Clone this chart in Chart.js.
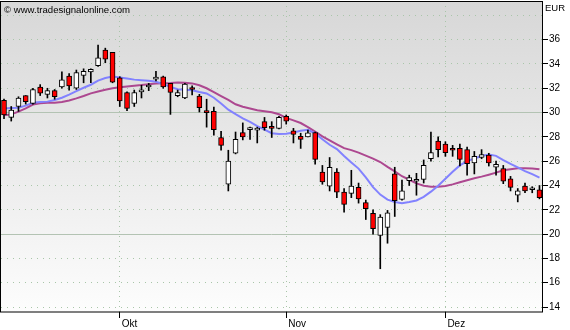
<!DOCTYPE html>
<html>
<head>
<meta charset="utf-8">
<script src="https://cdn.jsdelivr.net/npm/chart.js@4.4.1/dist/chart.umd.min.js"></script>
<style>
  html, body { margin: 0; padding: 0; background: #fff; }
  canvas { display: block; }
</style>
</head>
<body>
<canvas id="kurs" width="570" height="330"></canvas>
<script>
// daily candles, Sep - Dez
var opens  = [31.0,29.6,30.5,31.4,30.75,32.1,31.5,31.8,32.1,33.0,32.0,33.05,33.35,33.85,35.15,34.95,32.85,31.65,30.75,31.7,32.1,32.75,32.95,32.4,31.4,31.2,31.95,31.35,30.05,30.1,27.95,24.1,26.65,28.35,28.6,28.55,29.25,28.75,28.7,29.7,28.5,28.05,28.0,28.35,25.1,23.95,25.1,23.45,23.35,23.85,22.6,21.7,19.9,20.55,24.95,22.85,24.4,24.35,24.5,26.2,27.65,27.4,26.95,27.05,26.95,25.85,26.3,26.5,25.5,25.4,24.55,23.2,23.95,23.65,23.65];
var highs  = [31.1,30.5,31.3,31.4,32.0,32.3,32.0,31.9,33.35,33.2,33.5,33.6,33.6,35.55,35.3,34.95,32.95,31.7,31.85,32.25,32.4,33.4,33.0,32.4,31.85,32.4,32.2,31.5,31.1,30.45,28.45,26.9,28.4,29.15,28.8,28.8,29.6,29.25,29.7,29.8,28.7,28.3,28.55,28.4,25.65,26.3,25.4,23.75,25.25,24.2,22.8,22.0,21.6,21.95,25.5,24.45,24.85,25.0,26.1,28.4,28.0,27.6,27.3,27.4,27.15,26.8,26.95,26.65,26.0,25.65,24.75,23.75,24.2,23.9,24.0];
var lows   = [29.5,29.3,30.1,30.7,30.7,31.4,31.2,31.1,32.0,31.85,31.9,32.45,32.45,33.8,34.1,32.45,30.5,30.15,30.5,31.2,31.8,32.6,32.0,29.85,31.3,31.15,31.45,30.05,28.8,28.15,26.9,23.55,26.6,27.75,27.8,27.5,28.55,27.95,28.65,29.05,27.5,27.05,28.0,25.75,24.1,23.55,23.0,21.8,23.0,22.55,21.2,20.0,17.15,19.25,21.45,22.8,24.0,23.2,24.2,26.0,26.35,26.4,26.4,25.6,24.85,24.95,26.2,25.6,24.85,24.15,23.55,22.65,23.4,23.4,22.9];
var closes = [29.8,30.2,31.2,30.9,31.9,31.6,31.8,31.3,32.7,32.2,33.3,33.4,33.55,34.5,34.4,32.5,30.95,30.35,31.65,31.72,32.15,32.8,32.1,31.65,31.65,32.35,31.9,30.4,30.0,28.6,27.3,26.0,27.8,28.0,28.65,28.6,28.75,28.7,29.6,29.3,28.2,27.8,28.33,26.15,24.3,25.5,23.45,22.45,23.95,22.9,22.1,20.45,21.4,21.75,22.75,23.55,24.65,24.4,25.65,26.7,26.95,26.7,26.9,26.15,25.8,26.4,26.55,25.85,25.75,24.35,23.85,23.55,23.55,23.7,23.0];

// moving averages
var maFast = [30.34,30.37,30.39,30.57,30.80,30.87,30.90,31.03,31.22,31.48,31.76,32.04,32.29,32.63,32.84,32.97,32.89,32.80,32.71,32.66,32.62,32.53,32.36,32.11,31.92,31.87,31.84,31.69,31.57,31.22,30.75,30.24,29.87,29.53,29.23,28.89,28.60,28.30,28.23,28.25,28.36,28.50,28.58,28.28,27.80,27.35,27.00,26.42,25.90,25.39,24.67,23.86,23.25,22.84,22.64,22.54,22.64,22.77,23.06,23.49,23.98,24.56,25.13,25.65,26.00,26.22,26.43,26.54,26.44,26.09,25.78,25.49,25.18,24.93,24.65];
var maSlow = [29.78,29.85,30.08,30.35,30.66,30.76,30.80,30.81,30.87,31.00,31.17,31.36,31.58,31.74,31.88,32.00,32.08,32.15,32.21,32.26,32.33,32.39,32.41,32.43,32.47,32.46,32.40,32.25,32.00,31.69,31.36,31.04,30.68,30.48,30.34,30.19,30.10,30.02,29.86,29.56,29.36,29.14,28.80,28.43,28.04,27.71,27.39,27.07,26.91,26.70,26.46,26.21,25.93,25.53,25.16,24.76,24.47,24.17,23.98,23.90,23.90,23.96,24.09,24.26,24.43,24.60,24.73,24.89,25.06,25.25,25.34,25.42,25.42,25.40,25.34];

// axis ticks
var monthLabels = ['Okt', 'Nov', 'Dez'];
var monthIdx = [16, 39, 61];
var priceTicks = [14, 16, 18, 20, 22, 24, 26, 28, 30, 32, 34, 36, 38];

var wicks = lows.map((l, i) => ({ x: i, y: [l, highs[i]] }));
var bodies = opens.map((o, i) => ({ x: i, y: [o, closes[i]] }));
var bodyColors = opens.map((o, i) => closes[i] < o ? '#ff0000' : '#ffffff');

Chart.defaults.font.family = 'Liberation Sans';
Chart.defaults.font.size = 10;
Chart.defaults.color = '#000';

var chartFrame = {
    id: 'chartFrame',
    beforeDraw(chart) {
        const { ctx, chartArea: a } = chart;
        ctx.save();
        ctx.fillStyle = '#fff';
        ctx.fillRect(0, 0, chart.width, chart.height);
        const g = ctx.createLinearGradient(0, a.top, 0, a.bottom);
        g.addColorStop(0, '#d7d7d7');
        g.addColorStop(1, '#fdfdfd');
        ctx.fillStyle = g;
        ctx.fillRect(a.left, a.top, a.right - a.left, a.bottom - a.top);
        ctx.restore();
    },
    afterDraw(chart) {
        const { ctx, chartArea: a } = chart;
        ctx.save();
        ctx.strokeStyle = '#000';
        ctx.lineWidth = 1;
        ctx.strokeRect(Math.round(a.left) - 0.5, Math.round(a.top) + 0.5,
            Math.round(a.right - a.left) + 1, Math.round(a.bottom - a.top) - 0.5);
        ctx.fillStyle = '#000';
        ctx.font = '9.6px "Liberation Sans"';
        ctx.textBaseline = 'alphabetic';
        ctx.fillText('\u00a9 www.tradesignalonline.com', 4, 13);
        ctx.font = '9.5px "Liberation Sans"';
        ctx.fillText('EUR', 545, 11);
        ctx.restore();
    }
};

function noPad(s) {
    s.paddingTop = 0; s.paddingBottom = 0;
    s.paddingLeft = 0; s.paddingRight = 0;
}

new Chart(document.getElementById('kurs'), {
    type: 'bar',
    data: {
        datasets: [
            {
                data: bodies,
                grouped: false,
                barThickness: 5,
                minBarLength: 2,
                backgroundColor: bodyColors,
                borderColor: '#000',
                borderWidth: 1,
                borderSkipped: false,
                order: 0
            },
            {
                data: wicks,
                grouped: false,
                barThickness: 1,
                backgroundColor: '#000',
                borderWidth: 0,
                order: 1
            },
            {
                type: 'line',
                data: maFast.map((v, i) => ({ x: i, y: v })),
                borderColor: '#8282ff',
                borderWidth: 2,
                pointRadius: 0,
                fill: false,
                order: 2
            },
            {
                type: 'line',
                data: maSlow.map((v, i) => ({ x: i, y: v })),
                borderColor: '#ad4890',
                borderWidth: 2,
                pointRadius: 0,
                fill: false,
                order: 3
            }
        ]
    },
    options: {
        responsive: false,
        animation: false,
        layout: { padding: { left: 1, top: 1, right: 0, bottom: 0 } },
        plugins: { legend: { display: false }, tooltip: { enabled: false } },
        scales: {
            x: {
                type: 'linear',
                offset: false,
                bounds: 'data',
                min: -0.415,
                max: 74.35,
                afterBuildTicks: s => { s.ticks = monthIdx.map(v => ({ value: v })); },
                afterFit: s => { s.height = 18; noPad(s); },
                ticks: {
                    autoSkip: false,
                    maxRotation: 0,
                    align: 'start',
                    labelOffset: 2,
                    padding: 0,
                    callback: v => monthLabels[monthIdx.indexOf(v)] || ''
                },
                grid: {
                    offset: false,
                    color: '#a9c6a9',
                    lineWidth: 1,
                    drawTicks: true,
                    tickLength: 6,
                    tickColor: '#000',
                    tickBorderDash: []
                },
                border: { display: false, dash: [1, 4] }
            },
            y: {
                position: 'right',
                min: 13.59,
                max: 39.18,
                afterBuildTicks: s => { s.ticks = priceTicks.map(v => ({ value: v })); },
                afterFit: s => { s.width = 28; noPad(s); },
                ticks: {
                    padding: 1,
                    callback: v => v === 38 ? '' : String(v)
                },
                grid: {
                    color: c => (c.tick && (c.tick.value === 30 || c.tick.value === 20)) ? '#b3c3b3' : '#a9c6a9',
                    lineWidth: 1,
                    drawTicks: true,
                    tickLength: 6,
                    tickColor: c => (c.tick && c.tick.value === 38) ? 'rgba(0,0,0,0)' : '#000',
                    tickBorderDash: []
                },
                border: {
                    display: false,
                    dash: c => (c.tick && (c.tick.value === 30 || c.tick.value === 20)) ? [] : [1, 5]
                }
            }
        }
    },
    plugins: [chartFrame]
});
</script>
</body>
</html>
